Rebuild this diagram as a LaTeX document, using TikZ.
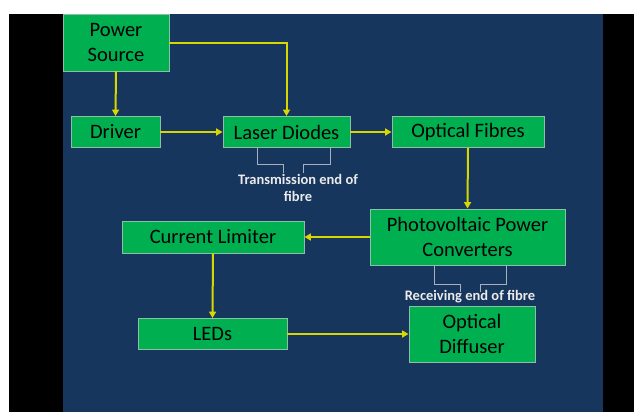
\documentclass[tikz,border=0pt]{standalone}
\usepackage{fontspec}
\setmainfont{Carlito}
\usetikzlibrary{arrows.meta}
\definecolor{navy}{HTML}{17365D}
\definecolor{boxgreen}{HTML}{00B050}
\definecolor{boxedge}{HTML}{8DBFA8}
\definecolor{arrowy}{HTML}{D8D800}
\definecolor{brk}{HTML}{A8B0C0}
\tikzset{
  box/.style={draw=boxedge, line width=0.9pt, fill=boxgreen, inner sep=0pt, align=center,
    font=\fontsize{20.5}{25}\selectfont, text=black},
  flow/.style={draw=arrowy, line width=2pt, -{Triangle[length=6.5pt,width=7pt]}},
  brack/.style={draw=brk, line width=1pt},
  note/.style={text=white!92!black, align=center, font=\bfseries\fontsize{14.5}{17}\selectfont, inner sep=0pt}
}
\begin{document}
\begin{tikzpicture}[x=1pt,y=-1pt]
\useasboundingbox (0,0) rectangle (634,412);
\fill[white] (0,0) rectangle (634,412);
\fill[black] (9,14) rectangle (634,412);
\fill[navy] (63,14) rectangle (603,412);

\node[box, minimum width=106pt, minimum height=57pt] (ps) at (116,42.5) {Power\\Source};
\node[box, minimum width=89pt, minimum height=31pt] (drv) at (115.5,132) {Driver};
\node[box, minimum width=127pt, minimum height=31pt] (ld) at (286.5,132) {Laser Diodes};
\node[box, minimum width=152pt, minimum height=31pt] (of) at (468,132) {Optical Fibres};
\node[box, minimum width=195pt, minimum height=56pt] (pv) at (467.5,237) {Photovoltaic Power\\Converters};
\node[box, minimum width=182pt, minimum height=32pt] (cl) at (213,237) {Current Limiter};
\node[box, minimum width=149pt, minimum height=31pt] (led) at (212.5,334) {LEDs};
\node[box, minimum width=126pt, minimum height=56pt] (od) at (472,334) {Optical\\Diffuser};

\draw[flow] (ps.south) -- (drv.north);
\draw[flow] (ps.east |- 0,43) -| (ld.north);
\draw[flow] (drv.east) -- (ld.west);
\draw[flow] (ld.east) -- (of.west);
\draw[flow] (of.south) -- (pv.north);
\draw[flow] (pv.west) -- (cl.east);
\draw[flow] (cl.south) -- (led.north);
\draw[flow] (led.east) -- (od.west);

\node[note] (tx) at (298,187.5) {Transmission end of\\fibre};
\node[note] (rx) at (470,297) {Receiving end of fibre};

\coordinate (t1) at (257,148);
\coordinate (t2) at (283,173);
\coordinate (t3) at (303,173);
\coordinate (t4) at (330,148);
\draw[brack] (t1) -- (257,164) -- (283,164) -- (t2);
\draw[brack] (t3) -- (303,164) -- (330,164) -- (t4);

\coordinate (r1) at (434,266);
\coordinate (r2) at (460,292);
\coordinate (r3) at (480,292);
\coordinate (r4) at (506,266);
\draw[brack] (r1) -- (434,284) -- (460,284) -- (r2);
\draw[brack] (r3) -- (480,284) -- (506,284) -- (r4);
\end{tikzpicture}
\end{document}
